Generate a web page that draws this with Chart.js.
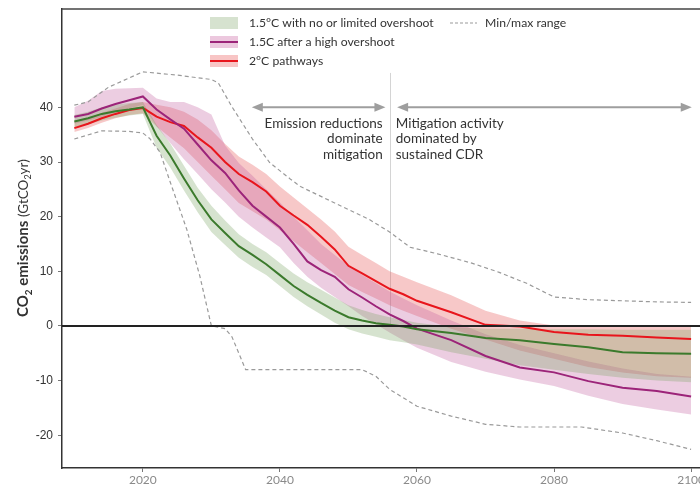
<!DOCTYPE html>
<html><head><meta charset="utf-8">
<script src="https://cdn.jsdelivr.net/npm/chart.js@4/dist/chart.umd.min.js"></script>
<style>html,body{margin:0;padding:0;background:#fff;overflow:hidden}#wrap{width:700px;height:488px;position:relative}</style>
</head><body><div id="wrap"><canvas id="c" width="700" height="488"></canvas></div>
<script>
// ---------- data (GtCO2/yr) ----------
const years = [2010,2012,2014,2016,2018,2020,2022,2024,2026,2028,2030,2032,2034,2036,2038,2040,2042,2044,2046,2048,2050,2052,2054,2056,2058,2060,2065,2070,2075,2080,2085,2090,2095,2100];

const greenMedian = [37.4,38.0,38.8,39.3,39.6,40.0,34.8,31.2,27.0,23.0,19.5,17.0,14.6,13.0,11.3,9.3,7.3,5.7,4.2,2.8,1.6,1.0,0.5,0.2,-0.1,-0.6,-1.3,-2.2,-2.6,-3.3,-3.9,-4.8,-5.0,-5.1];
const greenLow    = [36.3,36.9,37.6,38.1,38.5,38.8,32.6,29.0,24.8,20.8,17.2,14.8,12.5,10.8,9.3,7.3,5.3,3.6,2.1,0.6,-0.6,-1.4,-2.0,-2.6,-3.0,-3.4,-4.8,-6.0,-7.2,-8.0,-8.8,-9.5,-10.0,-10.3];
const greenHigh   = [38.6,39.2,40.0,40.5,40.8,41.0,36.8,33.4,29.3,25.3,22.0,19.3,16.8,15.0,13.5,11.5,9.6,8.0,6.6,5.2,3.8,2.9,2.2,1.6,1.1,0.6,-0.2,-0.5,-0.5,-0.6,-0.6,-0.7,-0.7,-0.7];

const purpleMedian = [38.3,38.8,39.8,40.6,41.3,42.0,39.6,37.8,36.1,33.2,30.3,28.0,24.8,22.0,20.0,18.0,15.0,11.8,10.2,9.0,6.7,5.2,3.6,2.1,0.9,-0.5,-2.6,-5.5,-7.6,-8.5,-10.1,-11.3,-11.9,-12.9];
const purpleLow    = [37.0,37.6,38.3,39.0,39.8,40.5,36.5,33.5,30.5,27.8,25.0,22.6,20.0,18.0,16.2,14.4,11.5,9.0,7.0,5.3,3.6,1.8,0.3,-1.2,-2.6,-4.0,-6.6,-8.4,-9.8,-11.0,-12.8,-14.3,-15.3,-16.2];
const purpleHigh   = [40.0,41.2,43.0,43.4,43.5,43.6,41.6,41.0,41.0,40.0,38.7,33.0,29.8,27.5,25.0,22.6,20.0,17.5,15.0,13.0,11.0,9.3,7.8,6.3,5.0,3.8,1.0,-1.5,-3.5,-5.0,-6.5,-7.8,-8.8,-9.3];

const redMedian = [36.2,37.0,38.0,38.8,39.5,39.9,38.3,37.3,36.6,34.5,32.6,30.0,27.8,26.3,24.6,22.0,20.2,18.5,16.3,14.0,11.0,9.6,8.2,6.8,5.8,4.6,2.5,0.2,-0.1,-1.1,-1.6,-1.8,-2.1,-2.4];
const redLow    = [35.5,36.2,37.2,38.0,38.6,38.9,36.5,34.5,32.5,30.0,27.5,25.0,22.5,21.0,19.5,17.5,15.5,13.5,11.5,9.5,7.5,6.2,5.0,3.8,2.8,1.8,-0.5,-2.5,-4.5,-6.0,-7.5,-8.5,-9.2,-9.5];
const redHigh   = [37.3,38.0,39.0,39.8,40.6,41.0,40.5,40.0,39.2,37.8,35.8,33.3,31.0,29.5,27.8,25.5,23.5,21.5,19.5,17.3,14.5,13.0,11.5,10.0,9.0,8.0,5.6,2.8,1.0,0.1,0.0,0.0,0.0,0.0];

const maxYears = [2010,2012,2015,2020,2025,2030,2031,2033,2036,2038.5,2041.5,2043,2048,2053,2056,2059,2063,2068,2072,2076,2080,2085,2090,2095,2100];
const maxRange = [40.4,41.0,43.7,46.5,45.9,45.1,44.5,40.1,34.2,29.9,26.9,25.5,22.5,19.5,17.2,14.4,13.2,11.5,9.8,7.8,5.3,4.8,4.6,4.4,4.3];
const minYears = [2010,2014,2018,2020,2021,2022.5,2024,2026.4,2028.3,2030,2032,2033,2035,2052,2054,2056,2060,2065,2070,2075,2084,2090,2095,2100];
const minRange = [34.2,35.7,35.6,35.3,34.3,31.8,26.3,17.7,9.2,0.0,-0.5,-2.0,-8.0,-8.0,-9.2,-11.6,-14.7,-16.5,-18.0,-18.5,-18.5,-19.6,-21.0,-22.6];

const xTicks = [2020,2040,2060,2080,2100];
const yTicks = [-20,-10,0,10,20,30,40];

const seriesLabels = ['1.5°C with no or limited overshoot','1.5C after a high overshoot','2°C pathways','Min/max range'];
const leftNote = ['Emission reductions','dominate','mitigation'];
const rightNote = ['Mitigation activity','dominated by','sustained CDR'];
const dividerYear = 2056, dividerTop = 46.3, arrowLevel = 40;
const leftArrow = [2035.9, 2055.4], rightArrow = [2057.1, 2100.1];

// ---------- styles ----------
const C = {
  green:'#3b7a2c', greenBand:'rgba(118,162,95,0.30)', greenSwatch:'#d6e2cf',
  purple:'#9c2479', purpleBand:'rgba(192,88,155,0.30)', purpleSwatch:'#ecc8de',
  red:'#e8151c', redBand:'rgba(228,72,72,0.30)', redSwatch:'#f8c5c5',
  dash:'#9a9a9a', text:'#333333'
};
const pts = (xs, ys) => xs.map((x,i) => ({x, y: ys[i]}));
const band = (hi, lo, color) => [
  {data: pts(years, hi), borderWidth:0, pointRadius:0, fill:false, order:5},
  {data: pts(years, lo), borderWidth:0, pointRadius:0, fill:'-1', backgroundColor:color, order:5}
];
const line = (vals, color) => ({data: pts(years, vals), borderColor:color, borderWidth:2, pointRadius:0, fill:false, order:1});

const datasets = [
  ...band(greenHigh, greenLow, C.greenBand),
  ...band(purpleHigh, purpleLow, C.purpleBand),
  ...band(redHigh, redLow, C.redBand),
  {data: pts(maxYears, maxRange), borderColor:C.dash, borderWidth:1.2, borderDash:[4,3], pointRadius:0, fill:false, order:2},
  {data: pts(minYears, minRange), borderColor:C.dash, borderWidth:1.2, borderDash:[4,3], pointRadius:0, fill:false, order:2},
  line(greenMedian, C.green),
  line(purpleMedian, C.purple),
  line(redMedian, C.red)
];

function head(ctx, x, y, dir){
  ctx.beginPath(); ctx.moveTo(x, y); ctx.lineTo(x + dir*11, y - 4.5); ctx.lineTo(x + dir*11, y + 4.5); ctx.closePath(); ctx.fill();
}
function arrow(ctx, x1, x2, y){
  ctx.save(); ctx.strokeStyle = ctx.fillStyle = '#9e9e9e'; ctx.lineWidth = 2;
  ctx.beginPath(); ctx.moveTo(x1 + 8, y); ctx.lineTo(x2 - 8, y); ctx.stroke();
  head(ctx, x1, y, 1); head(ctx, x2, y, -1); ctx.restore();
}

const overlay = {
  id:'overlay',
  beforeDatasetsDraw(chart){
    const {ctx, scales:{x, y}} = chart;
    ctx.save(); ctx.strokeStyle = '#d4d4d4'; ctx.lineWidth = 1;
    const px = Math.round(x.getPixelForValue(dividerYear)) + 0.5;
    ctx.beginPath(); ctx.moveTo(px, y.getPixelForValue(dividerTop)); ctx.lineTo(px, y.getPixelForValue(0)); ctx.stroke();
    ctx.restore();
  },
  afterDatasetsDraw(chart){
    const {ctx, chartArea:a, scales:{x, y}} = chart;
    ctx.save();
    // zero line
    const y0 = y.getPixelForValue(0);
    ctx.strokeStyle = '#222'; ctx.lineWidth = 2;
    ctx.beginPath(); ctx.moveTo(a.left, y0); ctx.lineTo(a.right, y0); ctx.stroke();
    // top border
    ctx.strokeStyle = '#444'; ctx.lineWidth = 1.5;
    ctx.beginPath(); ctx.moveTo(a.left, a.top); ctx.lineTo(a.right, a.top); ctx.stroke();
    // arrows
    const ay = y.getPixelForValue(arrowLevel);
    arrow(ctx, x.getPixelForValue(leftArrow[0]), x.getPixelForValue(leftArrow[1]), ay);
    arrow(ctx, x.getPixelForValue(rightArrow[0]), x.getPixelForValue(rightArrow[1]), ay);
    // notes
    ctx.fillStyle = C.text; ctx.font = '13.5px Lato'; ctx.textBaseline = 'middle';
    ctx.textAlign = 'right';
    leftNote.forEach((t,i) => ctx.fillText(t, x.getPixelForValue(2055.0), 123.5 + i*15.5));
    ctx.textAlign = 'left';
    rightNote.forEach((t,i) => ctx.fillText(t, x.getPixelForValue(2056.9), 123.5 + i*15.5));
    // legend
    ctx.fillStyle = C.greenSwatch; ctx.fillRect(210, 17, 28, 12);
    ctx.fillStyle = C.purpleSwatch; ctx.fillRect(210, 36, 28, 12);
    ctx.fillStyle = C.redSwatch; ctx.fillRect(210, 55, 28, 12);
    ctx.lineWidth = 2;
    ctx.strokeStyle = C.purple; ctx.beginPath(); ctx.moveTo(210, 42); ctx.lineTo(238, 42); ctx.stroke();
    ctx.strokeStyle = C.red; ctx.beginPath(); ctx.moveTo(210, 61); ctx.lineTo(238, 61); ctx.stroke();
    ctx.strokeStyle = C.dash; ctx.lineWidth = 1.2; ctx.setLineDash([3,2]);
    ctx.beginPath(); ctx.moveTo(450, 23); ctx.lineTo(477, 23); ctx.stroke(); ctx.setLineDash([]);
    ctx.fillStyle = C.text; ctx.font = '12.2px Lato'; ctx.textAlign = 'left'; ctx.textBaseline = 'middle';
    ctx.fillText(seriesLabels[0], 249, 23);
    ctx.fillText(seriesLabels[1], 249, 42);
    ctx.fillText(seriesLabels[2], 249, 61);
    ctx.fillText(seriesLabels[3], 485, 23);
    // y axis title (rotated, rich text)
    ctx.translate(28, 317); ctx.rotate(-Math.PI/2);
    ctx.textBaseline = 'alphabetic'; ctx.textAlign = 'left';
    let cx = 0;
    const part = (t, font, dy, col) => { ctx.font = font; ctx.fillStyle = col; ctx.fillText(t, cx, dy); cx += ctx.measureText(t).width; };
    part('CO', 'bold 15px Lato', 0, C.text);
    part('2', 'bold 10px Lato', 4, C.text);
    part(' emissions ', 'bold 15px Lato', 0, C.text);
    part('(GtCO', '13.5px Lato', 0, C.text);
    part('2', '9px Lato', 3, C.text);
    part('yr)', '13.5px Lato', 0, C.text);
    ctx.restore();
  }
};

new Chart(document.getElementById('c'), {
  type:'line',
  data:{datasets},
  options:{
    responsive:false, animation:false, devicePixelRatio:1,
    layout:{padding:{top:9, left:0, right:0, bottom:0}},
    plugins:{legend:{display:false}, tooltip:{enabled:false}},
    elements:{line:{tension:0}},
    scales:{
      x:{type:'linear', min:2008.2, max:2101.3,
        grid:{drawOnChartArea:false, drawTicks:true, tickLength:4, color:'#777'},
        border:{display:true, color:'#333', width:1.5},
        ticks:{font:{family:'Lato', size:12}, color:'#8a8a8a', padding:1, autoSkip:false, maxRotation:0, includeBounds:false, callback: v => String(v)},
        afterBuildTicks: s => { s.ticks = xTicks.map(v => ({value:v})); },
        afterFit: s => { s.height = 20; s.paddingLeft = 0; s.paddingRight = 0; }
      },
      y:{type:'linear', min:-26, max:58,
        grid:{drawOnChartArea:false, drawTicks:true, tickLength:4, color:'#777'},
        border:{display:true, color:'#333', width:1.5},
        ticks:{font:{family:'Liberation Sans', size:12}, color:'#333', padding:5, includeBounds:false, callback: v => String(v)},
        afterBuildTicks: s => { s.ticks = yTicks.map(v => ({value:v})); },
        afterFit: s => { s.width = 62; s.paddingTop = 0; s.paddingBottom = 0; }
      }
    }
  },
  plugins:[overlay]
});
</script></body></html>
